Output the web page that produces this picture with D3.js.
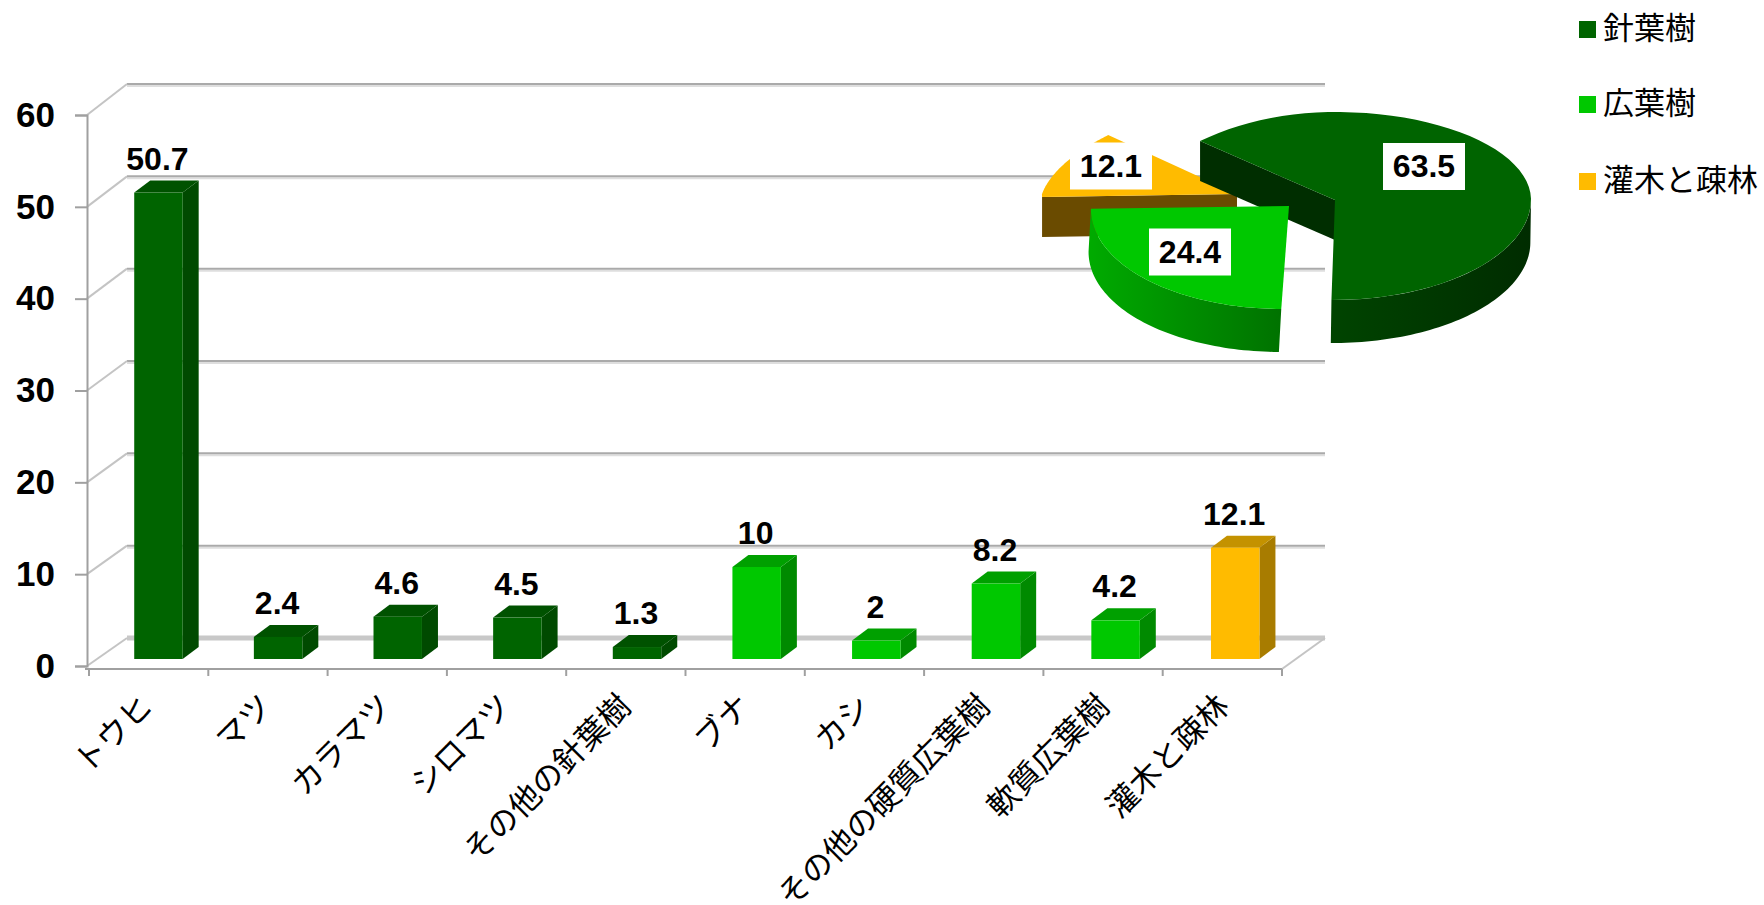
<!DOCTYPE html>
<html lang="ja">
<head>
<meta charset="utf-8">
<script src="https://cdn.jsdelivr.net/npm/d3@7/dist/d3.min.js"></script>
<style>
  html, body { margin: 0; padding: 0; background: #fff; }
  svg { display: block; }
  .num { font-family: "Liberation Sans", Arial, sans-serif; font-weight: 700; fill: #000; }
  .jp { font-family: "Noto Sans CJK JP", sans-serif; fill: #000; }
</style>
</head>
<body>
<script>
// Forest composition: tree species (bars) and forest type shares (pie)
const categories = ["トウヒ", "マツ", "カラマツ", "シロマツ", "その他の針葉樹", "ブナ", "カシ", "その他の硬質広葉樹", "軟質広葉樹", "灌木と疎林"];
const barValues = [50.7, 2.4, 4.6, 4.5, 1.3, 10, 2, 8.2, 4.2, 12.1];
const barGroups = [0, 0, 0, 0, 0, 1, 1, 1, 1, 2];
const valueTicks = [0, 10, 20, 30, 40, 50, 60];
const groupNames = ["針葉樹", "広葉樹", "灌木と疎林"];
const groupShares = [63.5, 24.4, 12.1];

const width = 1764, height = 905;
const faceColors = ["#006400", "#00c800", "#ffbb00"];
const topColors = ["#005200", "#00a000", "#c49200"];
const sideColors = ["#004a00", "#008a00", "#a87c00"];
const axisGrey = "#a0a0a0";
const depth = { x: 16, y: -12 };

const svg = d3.select("body").append("svg").attr("width", width).attr("height", height);
const defs = svg.append("defs");

// Three vertical scales: the axis plane, the back wall and the bar fronts
const yAxis = d3.scaleLinear().domain([0, 60]).range([666, 115]);
const yWall = d3.scaleLinear().domain([0, 60]).range([638, 84]);
const yBar = d3.scaleLinear().domain([0, 60]).range([659, 107]);
const x = d3.scaleBand().domain(categories).range([89, 1286])
  .paddingInner(0.595).paddingOuter(0.3).align(0.63);
const xTick = d3.scaleLinear().domain([0, categories.length]).range([89, 1282]);
const wallLeft = 127, wallRight = 1325, axisX = 87, floorY = 669;

// Back wall gridlines, with a pale shadow underneath each
const grid = svg.append("g");
grid.selectAll(".shadow").data(valueTicks).join("line")
  .attr("x1", wallLeft).attr("x2", wallRight)
  .attr("y1", d => yWall(d) + (d === 0 ? 0 : 2)).attr("y2", d => yWall(d) + (d === 0 ? 0 : 2))
  .attr("stroke", d => d === 0 ? "#c8c8c8" : "#dedede")
  .attr("stroke-width", d => d === 0 ? 5 : 2);
grid.selectAll(".rule").data(valueTicks.filter(d => d > 0)).join("line")
  .attr("x1", wallLeft).attr("x2", wallRight)
  .attr("y1", d => yWall(d)).attr("y2", d => yWall(d))
  .attr("stroke", "#aaa").attr("stroke-width", 2);
grid.selectAll(".side").data(valueTicks).join("line")
  .attr("x1", axisX).attr("x2", wallLeft)
  .attr("y1", d => yAxis(d)).attr("y2", d => yWall(d))
  .attr("stroke", "#c4c4c4").attr("stroke-width", 2);
grid.append("line")
  .attr("x1", xTick(categories.length)).attr("x2", wallRight)
  .attr("y1", floorY).attr("y2", yWall(0))
  .attr("stroke", "#c4c4c4").attr("stroke-width", 2);

// Value axis
const left = svg.append("g").attr("transform", `translate(${axisX},0)`)
  .call(d3.axisLeft(yAxis).tickValues(valueTicks).tickSize(12).tickPadding(20).tickFormat(d3.format("d")));
left.select(".domain").attr("stroke", axisGrey).attr("stroke-width", 2);
left.selectAll(".tick line").attr("stroke", axisGrey).attr("stroke-width", 2);
left.selectAll(".tick text").attr("class", "num").style("font-size", "35px");

// Category axis, ticks on the band boundaries
svg.append("line").attr("x1", axisX - 2).attr("x2", xTick(categories.length))
  .attr("y1", floorY).attr("y2", floorY).attr("stroke", axisGrey).attr("stroke-width", 2);
svg.append("g").selectAll("line").data(d3.range(categories.length + 1)).join("line")
  .attr("x1", i => xTick(i)).attr("x2", i => xTick(i))
  .attr("y1", floorY).attr("y2", floorY + 7)
  .attr("stroke", axisGrey).attr("stroke-width", 2);
svg.append("g").selectAll("text").data(categories).join("text")
  .attr("class", "jp")
  .attr("text-anchor", "end")
  .attr("transform", d => `translate(${x(d) + x.bandwidth() / 2 - 4},${708}) rotate(-45)`)
  .style("font-size", "31.5px")
  .text(d => d);

// Extruded bars: side, top, then front
const bars = svg.append("g").selectAll("g").data(categories).join("g");
const poly = pts => "M" + pts.map(p => p.join(",")).join("L") + "Z";
bars.append("path").attr("fill", (d, i) => sideColors[barGroups[i]])
  .attr("d", (d, i) => {
    const r = x(d) + x.bandwidth(), t = yBar(barValues[i]), b = yBar(0);
    return poly([[r, t], [r + depth.x, t + depth.y], [r + depth.x, b + depth.y], [r, b]]);
  });
bars.append("path").attr("fill", (d, i) => topColors[barGroups[i]])
  .attr("d", (d, i) => {
    const l = x(d), r = l + x.bandwidth(), t = yBar(barValues[i]);
    return poly([[l, t], [l + depth.x, t + depth.y], [r + depth.x, t + depth.y], [r, t]]);
  });
bars.append("rect").attr("fill", (d, i) => faceColors[barGroups[i]])
  .attr("x", d => x(d)).attr("width", x.bandwidth())
  .attr("y", (d, i) => yBar(barValues[i]))
  .attr("height", (d, i) => yBar(0) - yBar(barValues[i]));
bars.append("text").attr("class", "num")
  .attr("text-anchor", "middle").style("font-size", "32px")
  .attr("x", d => x(d) + x.bandwidth() / 2 - 1)
  .attr("y", (d, i) => yBar(barValues[i]) + depth.y - 11)
  .text((d, i) => barValues[i]);

// Exploded 3D pie. The near half of each rim is flattened less than the far half,
// the far-left quarter draws in slightly, and the near half may lean sideways.
const rad = d => d * Math.PI / 180;
const slices = d3.pie().sort(null).value(d => d).startAngle(rad(-48)).endAngle(rad(312))(groupShares);
const pieFrames = [
  { cx: 1335, cy: 200, rx: 196, up: 88, down: 100, pinch: 0.11, lean: 0.015, thick: 43, cutDepth: 40, label: [1424, 166.5], wall: ["#002c00", "#004400"], cut: "#002e00" },
  { cx: 1289, cy: 206, rx: 198, up: 88, down: 103, pinch: 0, lean: 0.055, thick: 43, cutDepth: 43, label: [1190, 252], wall: ["#007200", "#00aa00"], cut: "#007200" },
  { cx: 1237, cy: 194, rx: 195, up: 88, down: 106, pinch: 0.166, lean: 0, thick: 40, cutDepth: 40, label: [1111, 166], wall: ["#6a4b00", "#6a4b00"], cut: "#6a4b00" }
];
const rim = (f, a, drop = 0) => {
  const s = Math.sin(a), c = Math.cos(a);
  const squeeze = s < 0 && c > 0 ? 1 - f.pinch * c : 1;
  const y = f.cy - c * (c > 0 ? f.up : f.down) + drop;
  return [f.cx + f.rx * s * squeeze - f.lean * Math.max(0, y - f.cy), y];
};
const sweep = (f, a0, a1, drop = 0) => d3.range(0, 61).map(k => rim(f, a0 + (a1 - a0) * k / 60, drop));

const pie = svg.append("g");
[2, 0, 1].forEach(i => {
  const s = slices[i], f = pieFrames[i];
  const g = pie.append("g");

  // Outer wall on the part of the rim that faces the viewer
  const a0 = Math.max(s.startAngle, rad(90)), a1 = Math.min(s.endAngle, rad(270));
  if (a1 > a0) {
    const id = "wall" + i;
    const ends = [rim(f, a1)[0], rim(f, a0)[0]];
    const grad = defs.append("linearGradient").attr("id", id).attr("gradientUnits", "userSpaceOnUse")
      .attr("x1", ends[0]).attr("x2", ends[1]).attr("y1", 0).attr("y2", 0);
    grad.append("stop").attr("offset", 0).attr("stop-color", f.wall[1]);
    grad.append("stop").attr("offset", 1).attr("stop-color", f.wall[0]);
    g.append("path").attr("fill", `url(#${id})`)
      .attr("d", poly([...sweep(f, a0, a1), ...sweep(f, a1, a0, f.thick)]));
  }

  // Cut face along the leading radius, when it turns towards the viewer
  if (Math.cos(s.startAngle - rad(90)) < -0.2) {
    const p = rim(f, s.startAngle);
    g.append("path").attr("fill", f.cut)
      .attr("d", poly([[f.cx, f.cy], p, [p[0], p[1] + f.cutDepth], [f.cx, f.cy + f.cutDepth]]));
  }

  // Top surface
  g.append("path").attr("fill", faceColors[i])
    .attr("d", poly([[f.cx, f.cy], ...sweep(f, s.startAngle, s.endAngle)]));
});

// Pie value labels on white plates
const plates = pie.append("g").selectAll("g").data(slices).join("g")
  .attr("transform", (d, i) => `translate(${pieFrames[i].label})`);
plates.append("rect").attr("x", -41).attr("y", -23.5).attr("width", 82).attr("height", 47).attr("fill", "#fff");
plates.append("text").attr("class", "num").attr("text-anchor", "middle")
  .attr("dy", "0.34em").style("font-size", "32px").text(d => d.data);

// Legend
const legend = svg.append("g").selectAll("g").data(groupNames).join("g")
  .attr("transform", (d, i) => `translate(1579,${[21, 96, 173][i]})`);
legend.append("rect").attr("width", 17).attr("height", 17).attr("fill", (d, i) => faceColors[i]);
legend.append("text").attr("class", "jp").attr("x", 24).attr("y", 18)
  .style("font-size", "31px").text(d => d);
</script>
</body>
</html>
